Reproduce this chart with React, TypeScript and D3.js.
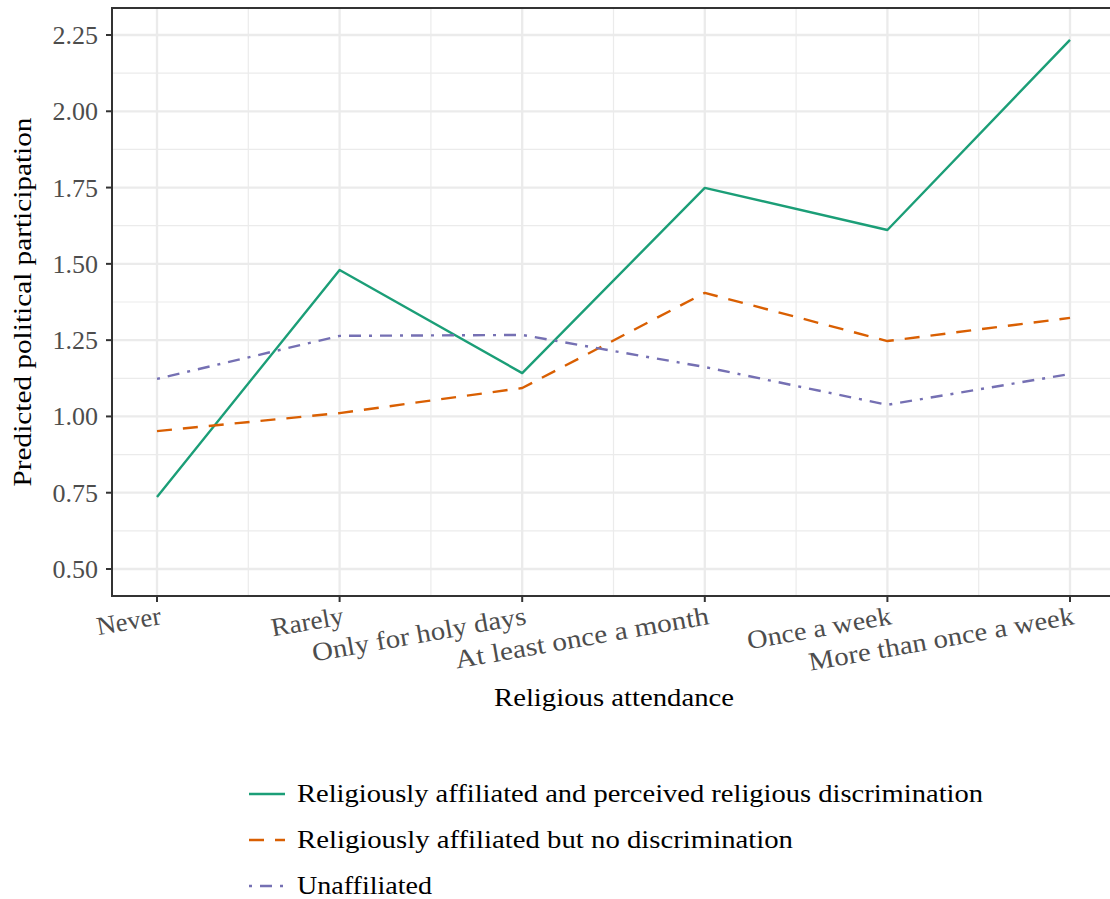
import React from "react";
import * as d3 from "d3";

const categories = [
  "Never",
  "Rarely",
  "Only for holy days",
  "At least once a month",
  "Once a week",
  "More than once a week",
];

const discrimValues = [0.736, 1.48, 1.142, 1.749, 1.611, 2.234];
const noDiscrimValues = [0.952, 1.011, 1.093, 1.405, 1.247, 1.323];
const unaffiliatedValues = [1.123, 1.264, 1.267, 1.162, 1.038, 1.139];

const seriesNames = [
  "Religiously affiliated and perceived religious discrimination",
  "Religiously affiliated but no discrimination",
  "Unaffiliated",
];

const yTicks = [0.5, 0.75, 1.0, 1.25, 1.5, 1.75, 2.0, 2.25];
const yMinor = [0.625, 0.875, 1.125, 1.375, 1.625, 1.875, 2.125];

const W = 1110;
const H = 899;
const FONT = "'Liberation Serif', 'Times New Roman', serif";

export default function App() {
  const left = 112;
  const top = 8;
  const right = 1116;
  const bottom = 596;

  const x = d3.scalePoint<string>().domain(categories).range([157, 1070]);
  const y = d3.scaleLinear().domain([0.5, 2.25]).range([569, 35]);

  const step = x.step();
  const xMinor = categories.slice(0, -1).map((c) => (x(c) as number) + step / 2);

  const series = [
    { name: seriesNames[0], values: discrimValues, color: "#1B9E77", dash: undefined as string | undefined },
    { name: seriesNames[1], values: noDiscrimValues, color: "#D95F02", dash: "15,11" },
    { name: seriesNames[2], values: unaffiliatedValues, color: "#7570B3", dash: "3,8,12,8" },
  ];

  const line = d3
    .line<number>()
    .x((_, i) => x(categories[i]) as number)
    .y((d) => y(d));

  const legendWidths = [686, 496, 135];
  const tickLabelWidths = [65, 73, 217, 257, 146, 269];
  const grid = "#EBEBEB";
  const dark = "#333333";

  return (
    <svg width={W} height={H} style={{ position: "absolute", left: 0, top: 0 }} fontFamily={FONT}>
      <rect x={0} y={0} width={W} height={H} fill="white" />
      <defs>
        <clipPath id="panel">
          <rect x={left} y={top} width={right - left} height={bottom - top} />
        </clipPath>
      </defs>
      <g clipPath="url(#panel)">
        {yMinor.map((v) => (
          <line key={"ym" + v} x1={left} x2={right} y1={y(v)} y2={y(v)} stroke={grid} strokeWidth={1.2} />
        ))}
        {xMinor.map((v, i) => (
          <line key={"xm" + i} x1={v} x2={v} y1={top} y2={bottom} stroke={grid} strokeWidth={1.2} />
        ))}
        {yTicks.map((v) => (
          <line key={"yM" + v} x1={left} x2={right} y1={y(v)} y2={y(v)} stroke={grid} strokeWidth={2.3} />
        ))}
        {categories.map((c) => (
          <line key={"xM" + c} x1={x(c)} x2={x(c)} y1={top} y2={bottom} stroke={grid} strokeWidth={2.3} />
        ))}
        {series.map((s) => (
          <path
            key={s.name}
            d={line(s.values) || ""}
            fill="none"
            stroke={s.color}
            strokeWidth={2.4}
            strokeDasharray={s.dash}
            strokeLinejoin="round"
          />
        ))}
      </g>
      <rect x={left} y={top} width={right - left} height={bottom - top} fill="none" stroke={dark} strokeWidth={2} />

      {/* Y axis ticks and labels */}
      {yTicks.map((v) => (
        <g key={"yt" + v}>
          <line x1={left - 6} x2={left} y1={y(v)} y2={y(v)} stroke={dark} strokeWidth={2} />
          <text x={98} y={y(v) + 9} textAnchor="end" fontSize={26} fill="#4D4D4D">
            {d3.format(".2f")(v)}
          </text>
        </g>
      ))}

      {/* X axis ticks and labels */}
      {categories.map((c, i) => (
        <g key={"xt" + c}>
          <line x1={x(c)} x2={x(c)} y1={bottom} y2={bottom + 6} stroke={dark} strokeWidth={2} />
          <text
            transform={`translate(${(x(c) as number) + 2},${606}) rotate(-10)`}
            textAnchor="end"
            dy="0.7em"
            fontSize={26}
            fill="#4D4D4D"
            textLength={tickLabelWidths[i]}
            lengthAdjust="spacingAndGlyphs"
          >
            {c}
          </text>
        </g>
      ))}

      {/* Axis titles */}
      <text x={614} y={706} textAnchor="middle" fontSize={26} fill="black" textLength={240} lengthAdjust="spacingAndGlyphs">
        Religious attendance
      </text>
      <text
        transform={`translate(31,${302}) rotate(-90)`}
        textAnchor="middle"
        fontSize={26}
        fill="black"
        textLength={369}
        lengthAdjust="spacingAndGlyphs"
      >
        Predicted political participation
      </text>

      {/* Legend */}
      {series.map((s, i) => {
        const cy = 794 + i * 46;
        return (
          <g key={"lg" + i}>
            <line x1={249} x2={285} y1={cy} y2={cy} stroke={s.color} strokeWidth={2.4} strokeDasharray={s.dash} />
            <text
              x={297}
              y={cy + 8}
              fontSize={26}
              fill="black"
              textLength={legendWidths[i]}
              lengthAdjust="spacingAndGlyphs"
            >
              {s.name}
            </text>
          </g>
        );
      })}
    </svg>
  );
}
